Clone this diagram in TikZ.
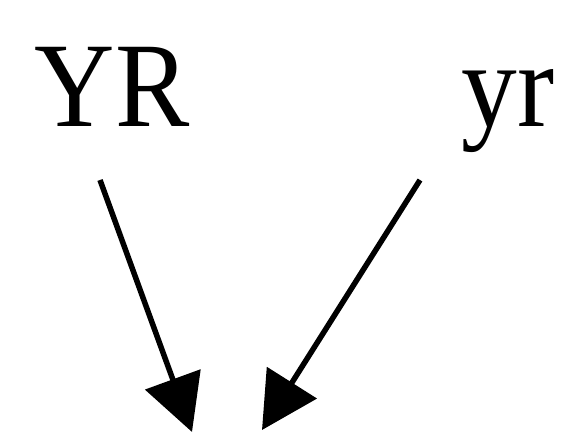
\documentclass[tikz,border=0pt]{standalone}
\usepackage{fontspec}
\setmainfont{Liberation Serif}
\usetikzlibrary{arrows.meta}
\newcommand{\narrowtext}[1]{\scalebox{0.92}[1]{#1}}
\begin{document}
\begin{tikzpicture}[x=1pt,y=1pt,
  lbl/.style={inner sep=0pt, font=\fontsize{121}{121}\selectfont, anchor=base},
  edge/.style={line width=5.5pt, -{Triangle[length=56pt,width=58pt]}}]
\useasboundingbox (0,0) rectangle (576,441);
\node[lbl] (YR) at (112,314) {\narrowtext{YR}};
\node[lbl] (yr) at (508,314) {\narrowtext{yr}};
\coordinate (t1) at (192,9);
\coordinate (t2) at (262,11);
\draw[edge] (100,261) -- (t1);
\draw[edge] (420,261) -- (t2);
\end{tikzpicture}
\end{document}
